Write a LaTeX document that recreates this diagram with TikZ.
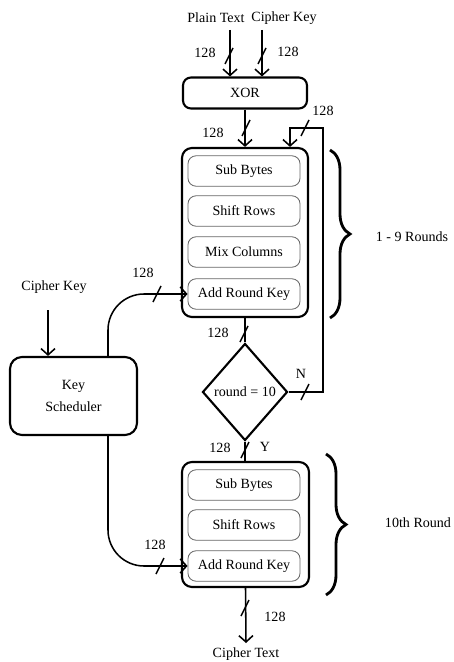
\documentclass[tikz,border=0pt]{standalone}
\usepackage{fontspec}
\setmainfont{Liberation Serif}
\usetikzlibrary{arrows.meta,shapes.geometric,decorations.pathreplacing}

\begin{document}
\begin{tikzpicture}[x=0.025cm, y=-0.025cm,
		>={Straight Barb[length=4.5pt,width=10pt]},
		wire/.style={line width=1.1pt},
		stage/.style={draw, line width=1.5pt, rounded corners=0.25cm, inner sep=0pt},
		op/.style={draw=black!60, line width=0.6pt, rounded corners=0.2cm, minimum width=2.8cm, minimum height=0.76cm, inner sep=0pt},
		bus/.pic={\draw[line width=1.1pt] (-4,8) -- (4,-8);},
		brc/.style={decorate, decoration={brace, amplitude=0.5cm}, line width=2pt}]
				\useasboundingbox (0,0) rectangle (453,662);
				% entrees
				\node (pt) at (216,18) {Plain Text};
				\node (ck) at (284,18) {Cipher Key};
				\coordinate (ptin) at (230,30);
				\coordinate (ckin) at (262,30);
				\node[stage, rounded corners=0.2cm, minimum width=3.1cm, minimum height=0.775cm] (xor) at (245,93) {XOR};
				% rondes 1 - 9
				\node[stage, minimum width=3.15cm, minimum height=4.225cm] (rnd1) at (245,232.5) {};
				\node[op] (sb1) at (244,171) {Sub Bytes};
				\node[op] (sr1) at (244,211) {Shift Rows};
				\node[op] (mc1) at (244,252) {Mix Columns};
				\node[op] (ark1) at (244,294) {Add Round Key};
				% test
				\node[draw, diamond, line width=1.5pt, minimum width=2.125cm, minimum height=2.425cm, inner sep=0pt] (dec) at (245,392) {round = 10};
				% derniere ronde
				\node[stage, minimum width=3.175cm, minimum height=3.125cm] (rnd2) at (245.5,524.5) {};
				\node[op] (sb2) at (244,485) {Sub Bytes};
				\node[op] (sr2) at (244,525) {Shift Rows};
				\node[op] (ark2) at (244,566) {Add Round Key};
				\node (ct) at (246,654) {Cipher Text};
				\coordinate (ctin) at (246,643);
				% cle
				\node (ck2) at (54,287) {Cipher Key};
				\coordinate (ck2in) at (48,310);
				\node[stage, rounded corners=0.3cm, minimum width=3.175cm, minimum height=1.95cm, align=center] (ks) at (73.5,396) {Key\\[3pt]Scheduler};
				\coordinate (kx) at (108,0);
				% boucle
				\coordinate (loop) at (323,128);
				\coordinate (fbx) at (290,128);
				% liaisons
				\draw[wire, ->] (ptin) -- (ptin |- xor.north);
				\draw[wire, ->] (ckin) -- (ckin |- xor.north);
				\draw[wire, ->] (xor.south) -- (rnd1.north -| xor.south);
				\draw[wire] (rnd1.south) -- (dec.north);
				\draw[wire] (dec.south) -- (rnd2.north -| dec.south);
				\draw[wire, ->] (rnd2.south) -- (ctin);
				\draw[wire, ->] (dec.east) -- (dec.east -| loop) -- (loop) -- (fbx) -- (fbx |- rnd1.north);
				\draw[wire, ->] (ck2in) -- (ck2in |- ks.north);
				\draw[wire, ->, rounded corners=0.9cm] (ks.north -| kx) |- (ark1.west);
				\draw[wire, ->, rounded corners=0.9cm] (ks.south -| kx) |- (ark2.west);
				% bus 128
				\pic at (229,56) {bus};
				\pic at (262,56) {bus};
				\pic at (246,128) {bus};
				\pic at (305,128) {bus};
				\pic at (244,334) {bus};
				\pic at (305,392) {bus};
				\pic at (245,450) {bus};
				\pic at (245,608) {bus};
				\pic at (157,294) {bus};
				\pic at (160,566) {bus};
				\node (b1) at (205,53) {128};
				\node (b2) at (288,52) {128};
				\node (b3) at (213,133) {128};
				\node (b4) at (323,111) {128};
				\node (b5) at (218,333) {128};
				\node (b6) at (220,448) {128};
				\node (b7) at (275,617) {128};
				\node (b8) at (143,273) {128};
				\node (b9) at (155,545) {128};
				\node (n) at (301,374) {N};
				\node (y) at (265,447) {Y};
				% accolades
				\draw[brc] (330,150) -- (330,318);
				\node (r19) at (412,237) {1 - 9 Rounds};
				\draw[brc] (326,454) -- (326,595);
				\node (r10) at (418,523) {10th Round};
\end{tikzpicture}
\end{document}
